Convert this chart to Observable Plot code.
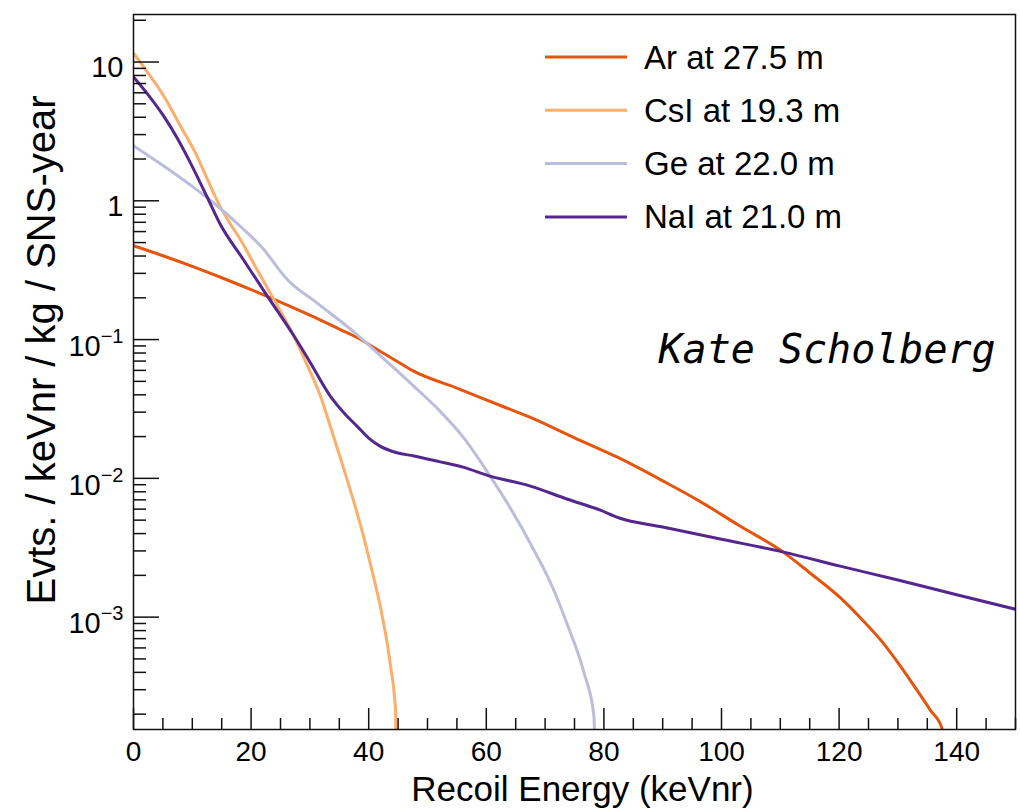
<!DOCTYPE html>
<html>
<head>
<meta charset="utf-8">
<script src="https://cdn.jsdelivr.net/npm/d3@7"></script>
<script src="https://cdn.jsdelivr.net/npm/@observablehq/plot@0.6"></script>
<style>
  html, body { margin: 0; padding: 0; background: #fff; }
  svg { display: block; }
</style>
</head>
<body>
<div id="chart"></div>
<script>
// ---- Data ----
const seriesNames = ["Ar at 27.5 m", "CsI at 19.3 m", "Ge at 22.0 m", "NaI at 21.0 m"];
const seriesColors = ["#e6550d", "#fdae6b", "#bcbddc", "#54278f"];

const arEnergy = [0, 5, 10, 15, 20, 25, 30, 35, 38.1, 42, 45, 47.4, 55, 62.4, 67.5, 75, 82.3, 90, 96.4, 103, 110.5, 115, 120.2, 124, 127.5, 130, 133.3, 135.5, 137.5, 137.9];
const arRate   = [0.474, 0.402, 0.337, 0.279, 0.229, 0.186, 0.150, 0.119, 0.103, 0.082, 0.069, 0.060, 0.0447, 0.0335, 0.0275, 0.0196, 0.0142, 0.0096, 0.0068, 0.00457, 0.00294, 0.00209, 0.00138, 0.00095, 0.00065, 0.00047, 0.000295, 0.000214, 0.000158, 0.000001];

const csiEnergy = [0, 2.5, 5.2, 8, 10.8, 12.5, 14.5, 16.3, 18.2, 21, 23.9, 26.7, 29.5, 31.8, 33.5, 35, 37, 39, 40.3, 42.3, 43.7, 44.6, 44.9];
const csiRate   = [11.6, 8.3, 5.63, 3.45, 2.1, 1.45, 0.95, 0.70, 0.524, 0.32, 0.194, 0.118, 0.066, 0.039, 0.0235, 0.0148, 0.0079, 0.0040, 0.0024, 0.00102, 0.00045, 0.0002, 0.000001];

const geEnergy = [0, 3, 6.9, 10, 13.7, 18.2, 22.2, 24.5, 26, 31.2, 38.3, 43, 47.7, 52, 56.2, 60.2, 64, 68, 71, 73.8, 76.6, 78.3, 78.9];
const geRate   = [2.49, 2.05, 1.58, 1.27, 0.96, 0.653, 0.444, 0.33, 0.275, 0.184, 0.106, 0.070, 0.046, 0.0309, 0.0195, 0.0111, 0.0062, 0.0031, 0.00174, 0.00088, 0.0004, 0.000195, 0.000001];

const naiEnergy = [0, 2.5, 5.2, 7.5, 9.7, 12.5, 14.8, 18.5, 22.4, 27.3, 30, 33.5, 36, 38, 40, 42, 44.8, 47.7, 52, 56.2, 60.2, 67.5, 73.7, 79.4, 82.5, 90, 100, 110.6, 120, 130, 140, 150];
const naiRate   = [7.8, 5.8, 4.04, 2.8, 1.87, 1.07, 0.672, 0.387, 0.217, 0.106, 0.069, 0.039, 0.029, 0.0238, 0.0195, 0.017, 0.0153, 0.0145, 0.0132, 0.012, 0.0105, 0.0088, 0.0071, 0.0059, 0.0052, 0.00446, 0.00364, 0.00294, 0.00234, 0.00185, 0.00145, 0.00114];

const xMajorTicks = [0, 20, 40, 60, 80, 100, 120, 140];
const xMinorTicks = [5, 10, 15, 25, 30, 35, 45, 50, 55, 65, 70, 75, 85, 90, 95, 105, 110, 115, 125, 130, 135, 145, 150];
const yMajorTicks = [0.001, 0.01, 0.1, 1, 10];
const yTickLabels = ["10^\u22123", "10^\u22122", "10^\u22121", "1", "10"];
const yMinorTicks = [0.0002, 0.0003, 0.0004, 0.0005, 0.0006, 0.0007, 0.0008, 0.0009,
                     0.002, 0.003, 0.004, 0.005, 0.006, 0.007, 0.008, 0.009,
                     0.02, 0.03, 0.04, 0.05, 0.06, 0.07, 0.08, 0.09,
                     0.2, 0.3, 0.4, 0.5, 0.6, 0.7, 0.8, 0.9,
                     2, 3, 4, 5, 6, 7, 8, 9, 20];
const xTitle = "Recoil Energy (keVnr)";
const yTitle = "Evts. / keVnr / kg / SNS-year";
const authorText = "Kate Scholberg";

// ---- Build table ----
const seriesEnergy = [arEnergy, csiEnergy, geEnergy, naiEnergy];
const seriesRate = [arRate, csiRate, geRate, naiRate];
const rows = [];
seriesNames.forEach((name, s) => {
  seriesEnergy[s].forEach((e, i) => rows.push({series: name, energy: e, rate: seriesRate[s][i]}));
});

const FONT = "'Liberation Sans', Arial, Helvetica, sans-serif";
const AXIS = "#111";

const svg = Plot.plot({
  width: 1020,
  height: 808,
  marginLeft: 133,
  marginRight: 5,
  marginTop: 14,
  marginBottom: 79,
  style: {fontFamily: FONT, background: "#fff", color: "#000"},
  x: {domain: [0, 150]},
  y: {type: "log", domain: [1.55e-4, 22]},
  color: {domain: seriesNames, range: seriesColors},
  marks: [
    Plot.line(rows, {x: "energy", y: "rate", z: "series", stroke: "series", strokeWidth: 3, clip: true, curve: "monotone-x"}),
    Plot.frame({stroke: AXIS, strokeWidth: 1.5}),
    // inward ticks
    Plot.axisX({ticks: xMajorTicks, tickSize: -21, tickFormat: () => "", label: null, stroke: AXIS, strokeWidth: 1.5}),
    Plot.axisX({ticks: xMinorTicks, tickSize: -11, tickFormat: () => "", label: null, stroke: AXIS, strokeWidth: 1.5}),
    Plot.axisY({ticks: yMajorTicks, tickSize: -26, tickFormat: () => "", label: null, stroke: AXIS, strokeWidth: 1.5}),
    Plot.axisY({ticks: yMinorTicks, tickSize: -13, tickFormat: () => "", label: null, stroke: AXIS, strokeWidth: 1.5}),
    // tick labels
    Plot.axisX({ticks: xMajorTicks, tickSize: 0, tickPadding: 12, fontSize: 28, tickFormat: d => String(d), label: null}),
    Plot.axisY({ticks: yMajorTicks, tickSize: 0, tickPadding: 10, fontSize: 29,
                tickFormat: d => yTickLabels[yMajorTicks.indexOf(d)], label: null}),
    // titles
    Plot.text([xTitle], {text: d => d, frameAnchor: "bottom", textAnchor: "middle", lineAnchor: "bottom", dx: 8, dy: 71, fontSize: 35, fill: "#000"}),
    Plot.text([yTitle], {text: d => d, frameAnchor: "left", textAnchor: "middle", lineAnchor: "bottom", rotate: -90, dx: -79, dy: -22, fontSize: 40, fill: "#000"}),
    Plot.text([authorText], {text: d => d, frameAnchor: "top-left", textAnchor: "start", lineAnchor: "bottom", dx: 525, dy: 348,
                             fontSize: 40, fontFamily: "'DejaVu Sans Mono', monospace", fontStyle: "italic", fill: "#000"})
  ]
});

// Superscript exponents on y tick labels
d3.select(svg).selectAll('g[aria-label="y-axis tick label"] text').each(function() {
  const t = d3.select(this);
  const s = t.text();
  if (s.includes("^")) {
    const [base, exp] = s.split("^");
    t.text(null).attr("font-size", 29).attr("dy", 7);
    t.append("tspan").text(base);
    t.append("tspan").text(exp).attr("font-size", 20).attr("dy", -13);
  } else {
    t.attr("dy", 6);
  }
});

// Legend
const legend = d3.select(svg).append("g")
  .attr("font-family", FONT).attr("font-size", 33).attr("text-anchor", "start");
seriesNames.forEach((name, i) => {
  const yy = 57 + i * 53.3;
  legend.append("line").attr("x1", 545).attr("x2", 627).attr("y1", yy).attr("y2", yy)
    .attr("stroke", seriesColors[i]).attr("stroke-width", 3);
  legend.append("text").attr("x", 644).attr("y", yy).attr("dy", "0.35em")
    .attr("text-anchor", "start").attr("fill", "#000").text(name);
});

document.getElementById("chart").appendChild(svg);
</script>
</body>
</html>
